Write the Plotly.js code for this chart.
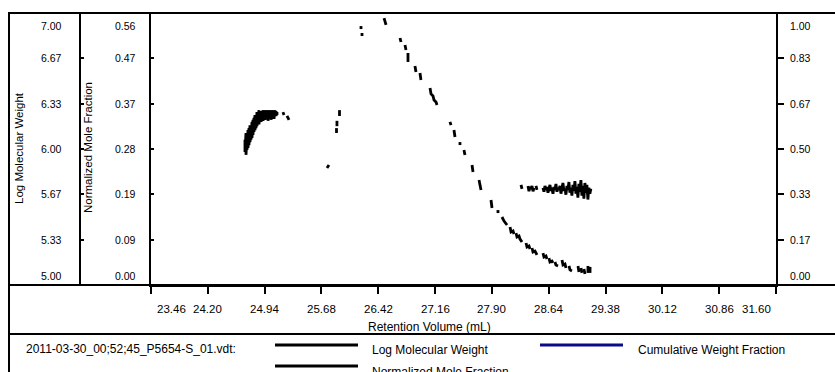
<!DOCTYPE html>
<html><head><meta charset="utf-8">
<script src="https://cdn.plot.ly/plotly-3.0.1.min.js"></script>
<style>html,body{margin:0;padding:0;background:#fff}#chart{width:835px;height:372px}</style>
</head><body><div id="chart"></div>
<script>
// ---------- data ----------
const logMWX = [26.195,26.195,null,26.208,26.208,null,26.495,26.508,26.521,null,26.703,26.716,null,26.768,26.781,null,26.807,26.807,null,26.898,26.911,null,26.963,26.976,null,
27.094,27.107,27.133,27.146,27.172,27.185,null,27.354,27.367,null,27.406,27.419,null,27.484,27.484,null,27.536,27.549,null,27.641,27.654,null,27.732,27.745,27.758,null,
27.888,27.901,null,27.979,27.979,null,28.031,28.058,28.097,null,28.136,28.149,28.175,28.188,null,28.214,28.227,28.253,28.266,28.292,null,
28.344,28.357,28.383,28.396,null,28.422,28.435,28.461,28.487,null,28.565,28.578,28.604,28.617,null,28.643,28.656,28.682,28.695,null,28.721,28.734,28.761,null,
28.813,28.826,28.852,28.865,null,28.904,28.917,28.943,null,29.021,29.034,null,29.060,29.073,null,29.099,29.112,null,29.151,29.151,null,29.178,29.178];
const logMWY = [6.904,6.882,null,6.853,6.831,null,6.963,6.934,6.912,null,6.816,6.787,null,6.765,6.728,null,6.706,6.640,null,6.610,6.566,null,6.559,6.507,null,
6.449,6.405,6.390,6.360,6.345,6.324,null,6.199,6.176,null,6.140,6.088,null,6.051,6.029,null,5.993,5.956,null,5.882,5.831,null,5.772,5.735,5.699,null,
5.625,5.566,null,5.551,5.529,null,5.500,5.470,5.441,null,5.426,5.390,5.397,5.375,null,5.382,5.353,5.360,5.338,5.316,null,
5.309,5.280,5.287,5.265,null,5.272,5.243,5.250,5.221,null,5.235,5.206,5.213,5.191,null,5.198,5.169,5.176,5.162,null,5.169,5.147,5.140,null,
5.184,5.147,5.154,5.125,null,5.140,5.111,5.103,null,5.140,5.096,null,5.125,5.089,null,5.118,5.081,null,5.140,5.089,null,5.133,5.089];

const moleX = [24.684,24.684,24.697,24.697,24.710,24.710,24.723,24.723,24.736,24.736,24.749,24.749,24.762,24.762,24.775,24.775,24.788,24.788,24.801,24.801,
24.814,24.814,24.827,24.827,24.840,24.840,24.853,24.853,24.866,24.866,24.880,24.880,24.893,24.893,24.906,24.906,24.919,24.919,24.932,24.932,
24.945,24.945,24.958,24.958,24.971,24.971,24.984,24.984,24.997,24.997,25.010,25.010,25.023,25.023,25.036,25.036,25.049,25.049,25.062,25.062,
25.075,25.075,25.088,25.088,25.101,25.101,null,25.179,25.192,null,25.231,25.257,null,25.752,25.778,null,25.915,25.915,null,25.882,25.882,null,25.876,25.876,null,
28.279,28.292,null,28.370,28.383,28.396,28.409,28.422,28.435,28.448,null,28.474,28.487,null,
28.565,28.578,28.591,28.604,28.617,28.630,28.643,28.656,28.669,28.682,28.695,28.708,28.721,28.734,28.747,28.760,28.773,28.786,28.799,28.812,
28.825,28.838,28.851,28.864,28.877,28.890,28.903,28.916,28.929,28.942,28.955,28.968,28.981,28.994,29.007,29.020,29.033,29.046,29.059,29.072,
29.085,29.098,29.111,29.124,29.137,29.150,29.163,29.176,29.189];
const moleY = [0.299,0.274,0.313,0.268,0.303,0.278,0.319,0.282,0.323,0.288,0.329,0.294,0.319,0.299,0.336,0.303,0.340,0.309,0.344,0.315,
0.350,0.319,0.340,0.323,0.356,0.327,0.350,0.336,0.360,0.331,0.352,0.340,0.358,0.336,0.350,0.342,0.360,0.338,0.352,0.344,
0.360,0.340,0.356,0.344,0.360,0.348,0.354,0.338,0.360,0.346,0.356,0.348,0.360,0.340,0.354,0.346,0.360,0.350,0.356,0.342,
0.360,0.352,0.358,0.348,0.356,0.350,null,0.356,0.350,null,0.348,0.340,null,0.241,0.247,null,0.360,0.348,null,0.338,0.327,null,0.323,0.313,null,
0.206,0.198,null,0.204,0.193,0.202,0.198,0.204,0.193,0.200,null,0.204,0.196,null,
0.200,0.192,0.204,0.196,0.202,0.190,0.198,0.206,0.194,0.200,0.188,0.202,0.196,0.208,0.192,0.200,0.196,0.204,0.188,0.200,
0.210,0.194,0.198,0.186,0.204,0.196,0.212,0.190,0.200,0.184,0.206,0.194,0.214,0.188,0.202,0.180,0.208,0.192,0.216,0.184,
0.204,0.178,0.210,0.190,0.206,0.176,0.200,0.188,0.198];

const cumWeightX = [];
const cumWeightY = [];

const xTickVals = [23.46,24.20,24.94,25.68,26.42,27.16,27.90,28.64,29.38,30.12,30.86,31.60];
const xTickText = ["23.46","24.20","24.94","25.68","26.42","27.16","27.90","28.64","29.38","30.12","30.86","31.60"];
const logMWTickVals = [5.000,5.333,5.667,6.000,6.333,6.667,7.000];
const logMWTickText = ["5.00","5.33","5.67","6.00","6.33","6.67","7.00"];
const moleTickVals = [0,0.0933,0.1867,0.28,0.3733,0.4667,0.56];
const moleTickText = ["0.00","0.09","0.19","0.28","0.37","0.47","0.56"];
const cumTickVals = [0,0.1667,0.3333,0.5,0.6667,0.8333,1];
const cumTickText = ["0.00","0.17","0.33","0.50","0.67","0.83","1.00"];

const seriesNames = ["Log Molecular Weight","Normalized Mole Fraction","Cumulative Weight Fraction"];
const fileLabel = "2011-03-30_00;52;45_P5654-S_01.vdt:";
const xTitle = "Retention Volume (mL)";

// ---------- layout helpers ----------
const FONT = 'Liberation Sans, Arial, sans-serif';
const W = 835, H = 372, L = 9, T = 13, PB = 285;
const px = x => (x - L) / (W - L);
const py = y => (PB - y) / (PB - T);
const BLUE = '#0a0a8c';

const traces = [
  {x: logMWX, y: logMWY, yaxis: 'y', mode: 'lines', connectgaps: false, name: seriesNames[0],
   line: {color: '#000', width: 2.8}, hoverinfo: 'skip'},
  {x: moleX, y: moleY, yaxis: 'y2', mode: 'lines', connectgaps: false, name: seriesNames[1],
   line: {color: '#000', width: 2.8}, hoverinfo: 'skip'},
  {x: cumWeightX, y: cumWeightY, yaxis: 'y3', mode: 'lines', name: seriesNames[2],
   line: {color: BLUE, width: 2.8}, hoverinfo: 'skip'}
];

const axBase = {showgrid: false, zeroline: false, showline: true, linecolor: '#000', linewidth: 2,
  tickcolor: '#000', tickwidth: 2, showticklabels: false, tickmode: 'array', fixedrange: true};

const annotations = [];
const tf = (s) => ({family: FONT, size: s, color: '#000'});
const ann = (o) => Object.assign({showarrow: false, xanchor: 'center', yanchor: 'middle'}, o);

xTickVals.forEach((v, i) => {
  annotations.push(ann({xref: 'x', yref: 'paper', x: v, y: py(309), text: xTickText[i], font: tf(11.5),
    xshift: i === 0 ? 20 : (i === xTickVals.length - 1 ? -20 : 0)}));
});
function yLabels(vals, texts, yref, xpos, anchor) {
  vals.forEach((v, i) => {
    annotations.push(ann({xref: 'paper', yref: yref, x: xpos, y: v, text: texts[i],
      xanchor: anchor, font: tf(10.5),
      yshift: i === 0 ? 9 : (i === vals.length - 1 ? -13 : 0)}));
  });
}
yLabels(logMWTickVals, logMWTickText, 'y', px(64), 'right');
yLabels(moleTickVals, moleTickText, 'y2', px(138), 'right');
yLabels(cumTickVals, cumTickText, 'y3', px(788), 'left');

annotations.push(
  ann({xref: 'paper', yref: 'paper', x: px(19), y: py(148), text: seriesNames[0], textangle: -90, font: tf(11.5)}),
  ann({xref: 'paper', yref: 'paper', x: px(88), y: py(148), text: seriesNames[1], textangle: -90, font: tf(11.5)}),
  ann({xref: 'paper', yref: 'paper', x: px(848), y: py(155), text: seriesNames[2], textangle: -90,
   font: {family: FONT, size: 11.5, color: '#dcdcdc'}}),
  ann({xref: 'paper', yref: 'paper', x: px(429), y: py(327), text: xTitle, font: tf(12)}),
  ann({xref: 'paper', yref: 'paper', x: px(24), y: py(349), text: fileLabel, xanchor: 'left', font: tf(12)}),
  ann({xref: 'paper', yref: 'paper', x: px(370), y: py(350), text: seriesNames[0], xanchor: 'left', font: tf(12)}),
  ann({xref: 'paper', yref: 'paper', x: px(636), y: py(350), text: seriesNames[2], xanchor: 'left', font: tf(12)}),
  ann({xref: 'paper', yref: 'paper', x: px(370), y: py(372), text: seriesNames[1], xanchor: 'left', font: tf(12)})
);

const ln = (x0, y0, x1, y1, color, w) => ({type: 'line', xref: 'paper', yref: 'paper',
  x0: px(x0), y0: py(y0), x1: px(x1), y1: py(y1), line: {color: color || '#000', width: w || 2}});

const shapes = [
  ln(9, 13, 835, 13),
  ln(9, 285, 835, 285),
  ln(9, 334, 835, 334),
  ln(9, 12, 9, 380),
  ln(275, 345, 358, 345, '#000', 3),
  ln(540, 345, 623, 345, BLUE, 3),
  ln(275, 366, 358, 366, '#000', 3)
];

const layout = {
  width: W, height: H,
  margin: {l: L, r: 0, t: T, b: H - PB, pad: 0},
  paper_bgcolor: '#fff', plot_bgcolor: '#fff',
  showlegend: false,
  font: {family: FONT, size: 12, color: '#000'},
  xaxis: Object.assign({}, axBase, {domain: [px(151), px(776)], range: [23.46, 31.60], anchor: 'y',
    ticks: 'outside', ticklen: 7, tickvals: xTickVals}),
  yaxis: Object.assign({}, axBase, {domain: [0, 1], range: [5, 7], anchor: 'free', position: px(80), side: 'left',
    ticks: 'inside', ticklen: 3, tickvals: logMWTickVals}),
  yaxis2: Object.assign({}, axBase, {overlaying: 'y', anchor: 'x', side: 'left', range: [0, 0.56],
    ticks: 'inside', ticklen: 3, tickvals: moleTickVals}),
  yaxis3: Object.assign({}, axBase, {overlaying: 'y', anchor: 'x', side: 'right', range: [0, 1],
    ticks: 'outside', ticklen: 6, tickvals: cumTickVals}),
  annotations: annotations,
  shapes: shapes
};

Plotly.newPlot('chart', traces, layout, {staticPlot: true, displayModeBar: false});
</script></body></html>
